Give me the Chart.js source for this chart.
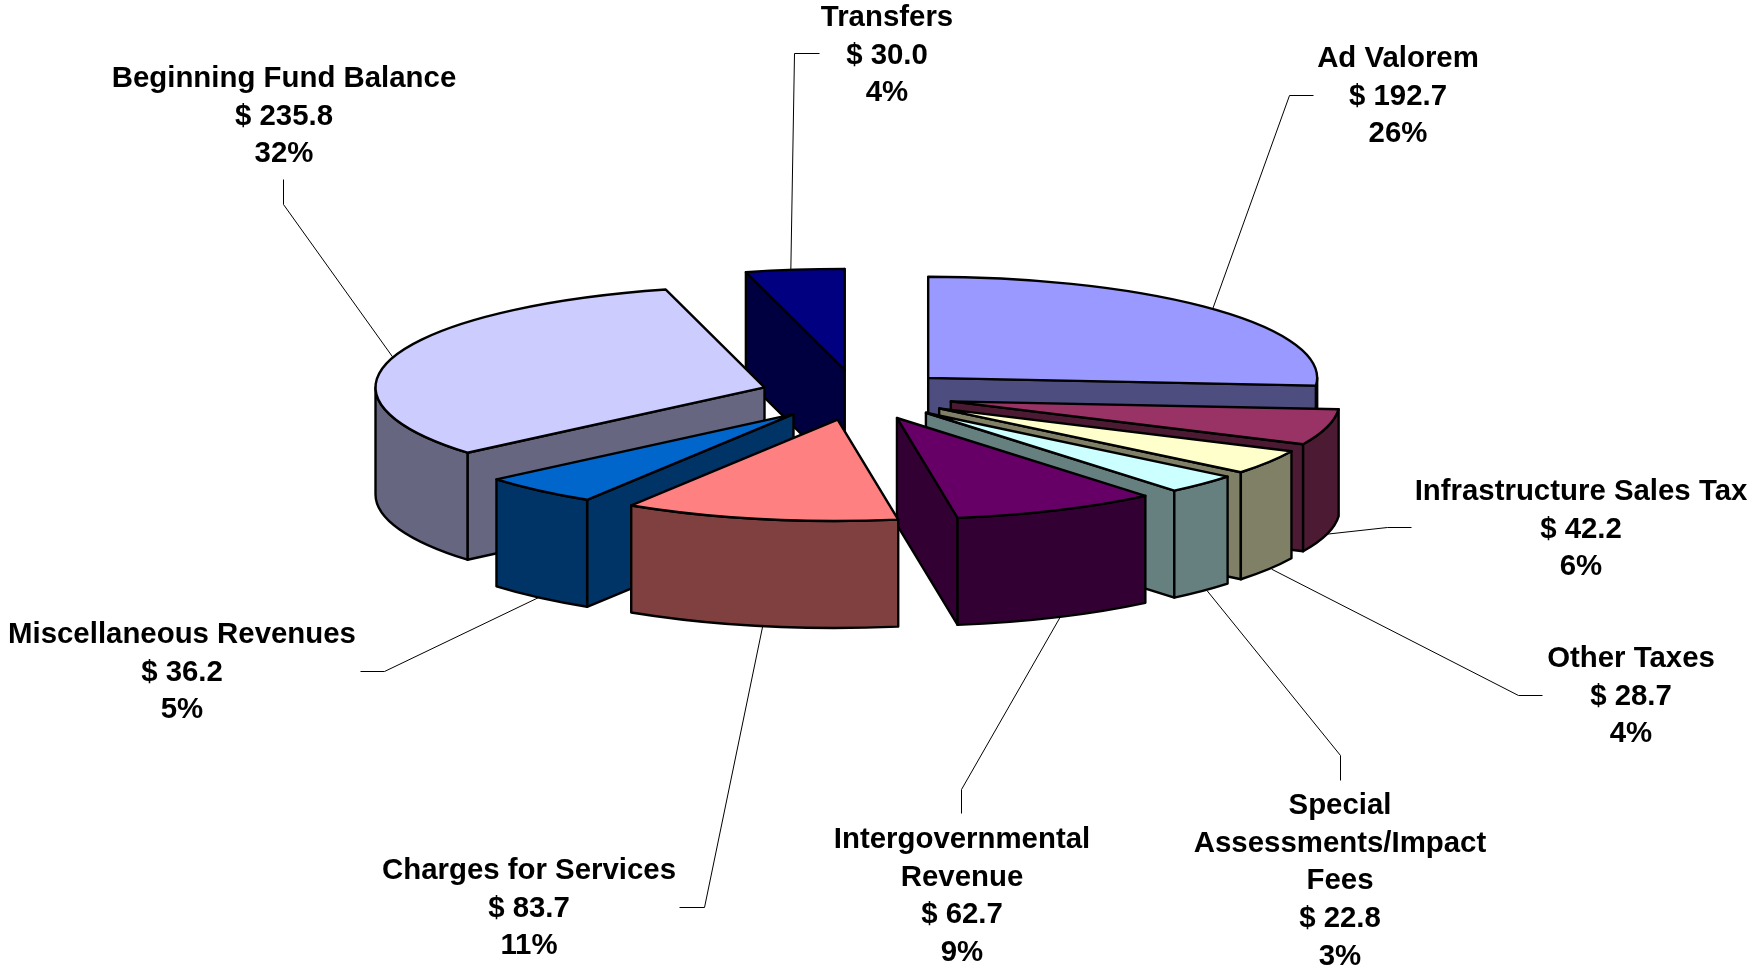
<!DOCTYPE html>
<html>
<head>
<meta charset="utf-8">
<style>html,body{margin:0;padding:0;background:#fff}canvas{display:block}</style>
<script src="https://cdn.jsdelivr.net/npm/chart.js@4"></script>
</head>
<body>
<canvas id="c" width="1754" height="969"></canvas>
<script>
const categories = ["Ad Valorem","Infrastructure Sales Tax","Other Taxes","Special Assessments/Impact Fees","Intergovernmental Revenue","Charges for Services","Miscellaneous Revenues","Beginning Fund Balance","Transfers"];
const values = [192.7,42.2,28.7,22.8,62.7,83.7,36.2,235.8,30.0];
const percents = ["26%","6%","4%","3%","9%","11%","5%","32%","4%"];
const labelLines = [["Ad Valorem"],["Infrastructure Sales Tax"],["Other Taxes"],["Special","Assessments/Impact","Fees"],["Intergovernmental","Revenue"],["Charges for Services"],["Miscellaneous Revenues"],["Beginning Fund Balance"],["Transfers"]];
const topColors = ["#9999FF","#993366","#FFFFCC","#CCFFFF","#660066","#FF8080","#0066CC","#CCCCFF","#000080"];
const sideColors = ["#4D4D80","#4D1A33","#808066","#668080","#330033","#804040","#003366","#666680","#000040"];

// layout (full-size pixels): label centre x, first line y, and leader elbow points
const labelX = [1398,1581,1631,1340,962,529,182,284,887];
const labelY = [57,490,657,804,838,869,633,77,16];
const elbows = [[[1289,95],[1313,95]],[[1387,527],[1411,527]],[[1518,695],[1542,695]],[[1340,755],[1340,780]],[[961,789],[961,813]],[[704,907],[679,907]],[[384,671],[360,671]],[[283,204],[283,179]],[[794,53],[819,53]]];
const leaderShift = [-1,0,3,5,3,3,0,-1,-4];
const tilt = 0.26, depth = 107, explode = 97, radius = 389;
const fontPx = 29.4, lineGap = 37.7;

const pie3d = {
  id:'pie3d',
  beforeDatasetDraw(chart){
    const ctx = chart.ctx, arcs = chart.getDatasetMeta(0).data;
    const geo = arcs.map((a,i)=>{
      const mid=(a.startAngle+a.endAngle)/2, off=a.options.offset;
      const ax=a.x+Math.cos(mid)*off, ay=a.y+Math.sin(mid)*off*tilt;
      return {i,a0:a.startAngle,a1:a.endAngle,mid,ax,ay,r:a.outerRadius};
    });
    // leaders first: they sit behind the pie
    ctx.save();
    ctx.strokeStyle='#000'; ctx.lineWidth=1;
    geo.forEach(g=>{
      const front=Math.sin(g.mid)>0;
      const x=g.ax+Math.cos(g.mid)*g.r+leaderShift[g.i], y=g.ay+Math.sin(g.mid)*g.r*tilt+(front?depth:0);
      ctx.beginPath(); ctx.moveTo(x,y);
      elbows[g.i].forEach(p=>ctx.lineTo(p[0]+.5,p[1]+.5));
      ctx.stroke();
    });
    ctx.restore();
    const order=[...geo].sort((p,q)=>Math.sin(p.mid)-Math.sin(q.mid));
    ctx.save();
    ctx.lineJoin='round'; ctx.lineWidth=2.4; ctx.strokeStyle='#000';
    const paint=(fill)=>{ctx.closePath();ctx.fillStyle=fill;ctx.fill();ctx.stroke();};
    order.forEach(g=>{
      const ry=g.r*tilt, px=t=>g.ax+Math.cos(t)*g.r, py=t=>g.ay+Math.sin(t)*ry, side=sideColors[g.i];
      const wall=t=>{
        ctx.beginPath();ctx.moveTo(g.ax,g.ay);ctx.lineTo(px(t),py(t));
        ctx.lineTo(px(t),py(t)+depth);ctx.lineTo(g.ax,g.ay+depth);paint(side);
      };
      if(-Math.cos(g.a0)>0) wall(g.a0);
      if(Math.cos(g.a1)>0) wall(g.a1);
      // curved rim: clip the slice's sweep to the viewer-facing half of the ellipse
      const two=Math.PI*2;
      for(const k of [-1,0,1]){
        const s=Math.max(g.a0,k*two), e=Math.min(g.a1,k*two+Math.PI);
        if(e>s){
          ctx.beginPath();ctx.ellipse(g.ax,g.ay,g.r,ry,0,s,e);
          ctx.ellipse(g.ax,g.ay+depth,g.r,ry,0,e,s,true);paint(side);
        }
      }
      ctx.beginPath();ctx.moveTo(g.ax,g.ay);ctx.ellipse(g.ax,g.ay,g.r,ry,0,g.a0,g.a1);paint(topColors[g.i]);
    });
    ctx.restore();
    // data labels
    ctx.save();
    ctx.fillStyle='#000';ctx.font='bold '+fontPx+'px "Liberation Sans", Arial, sans-serif';
    ctx.textAlign='center';ctx.textBaseline='alphabetic';
    categories.forEach((c,i)=>{
      const lines=[...labelLines[i],'$ '+values[i].toFixed(1),percents[i]];
      lines.forEach((t,n)=>ctx.fillText(t,labelX[i],labelY[i]+n*lineGap+10));
    });
    ctx.restore();
    return false;
  }
};

new Chart(document.getElementById('c'),{
  type:'pie',
  data:{labels:categories,datasets:[{data:values,backgroundColor:topColors,borderColor:'#000',borderWidth:2,offset:explode,clip:false}]},
  options:{
    responsive:false,animation:false,radius:radius,
    layout:{padding:{right:40,bottom:179}},
    plugins:{legend:{display:false},tooltip:{enabled:false}}
  },
  plugins:[pie3d]
});
</script>
</body>
</html>
